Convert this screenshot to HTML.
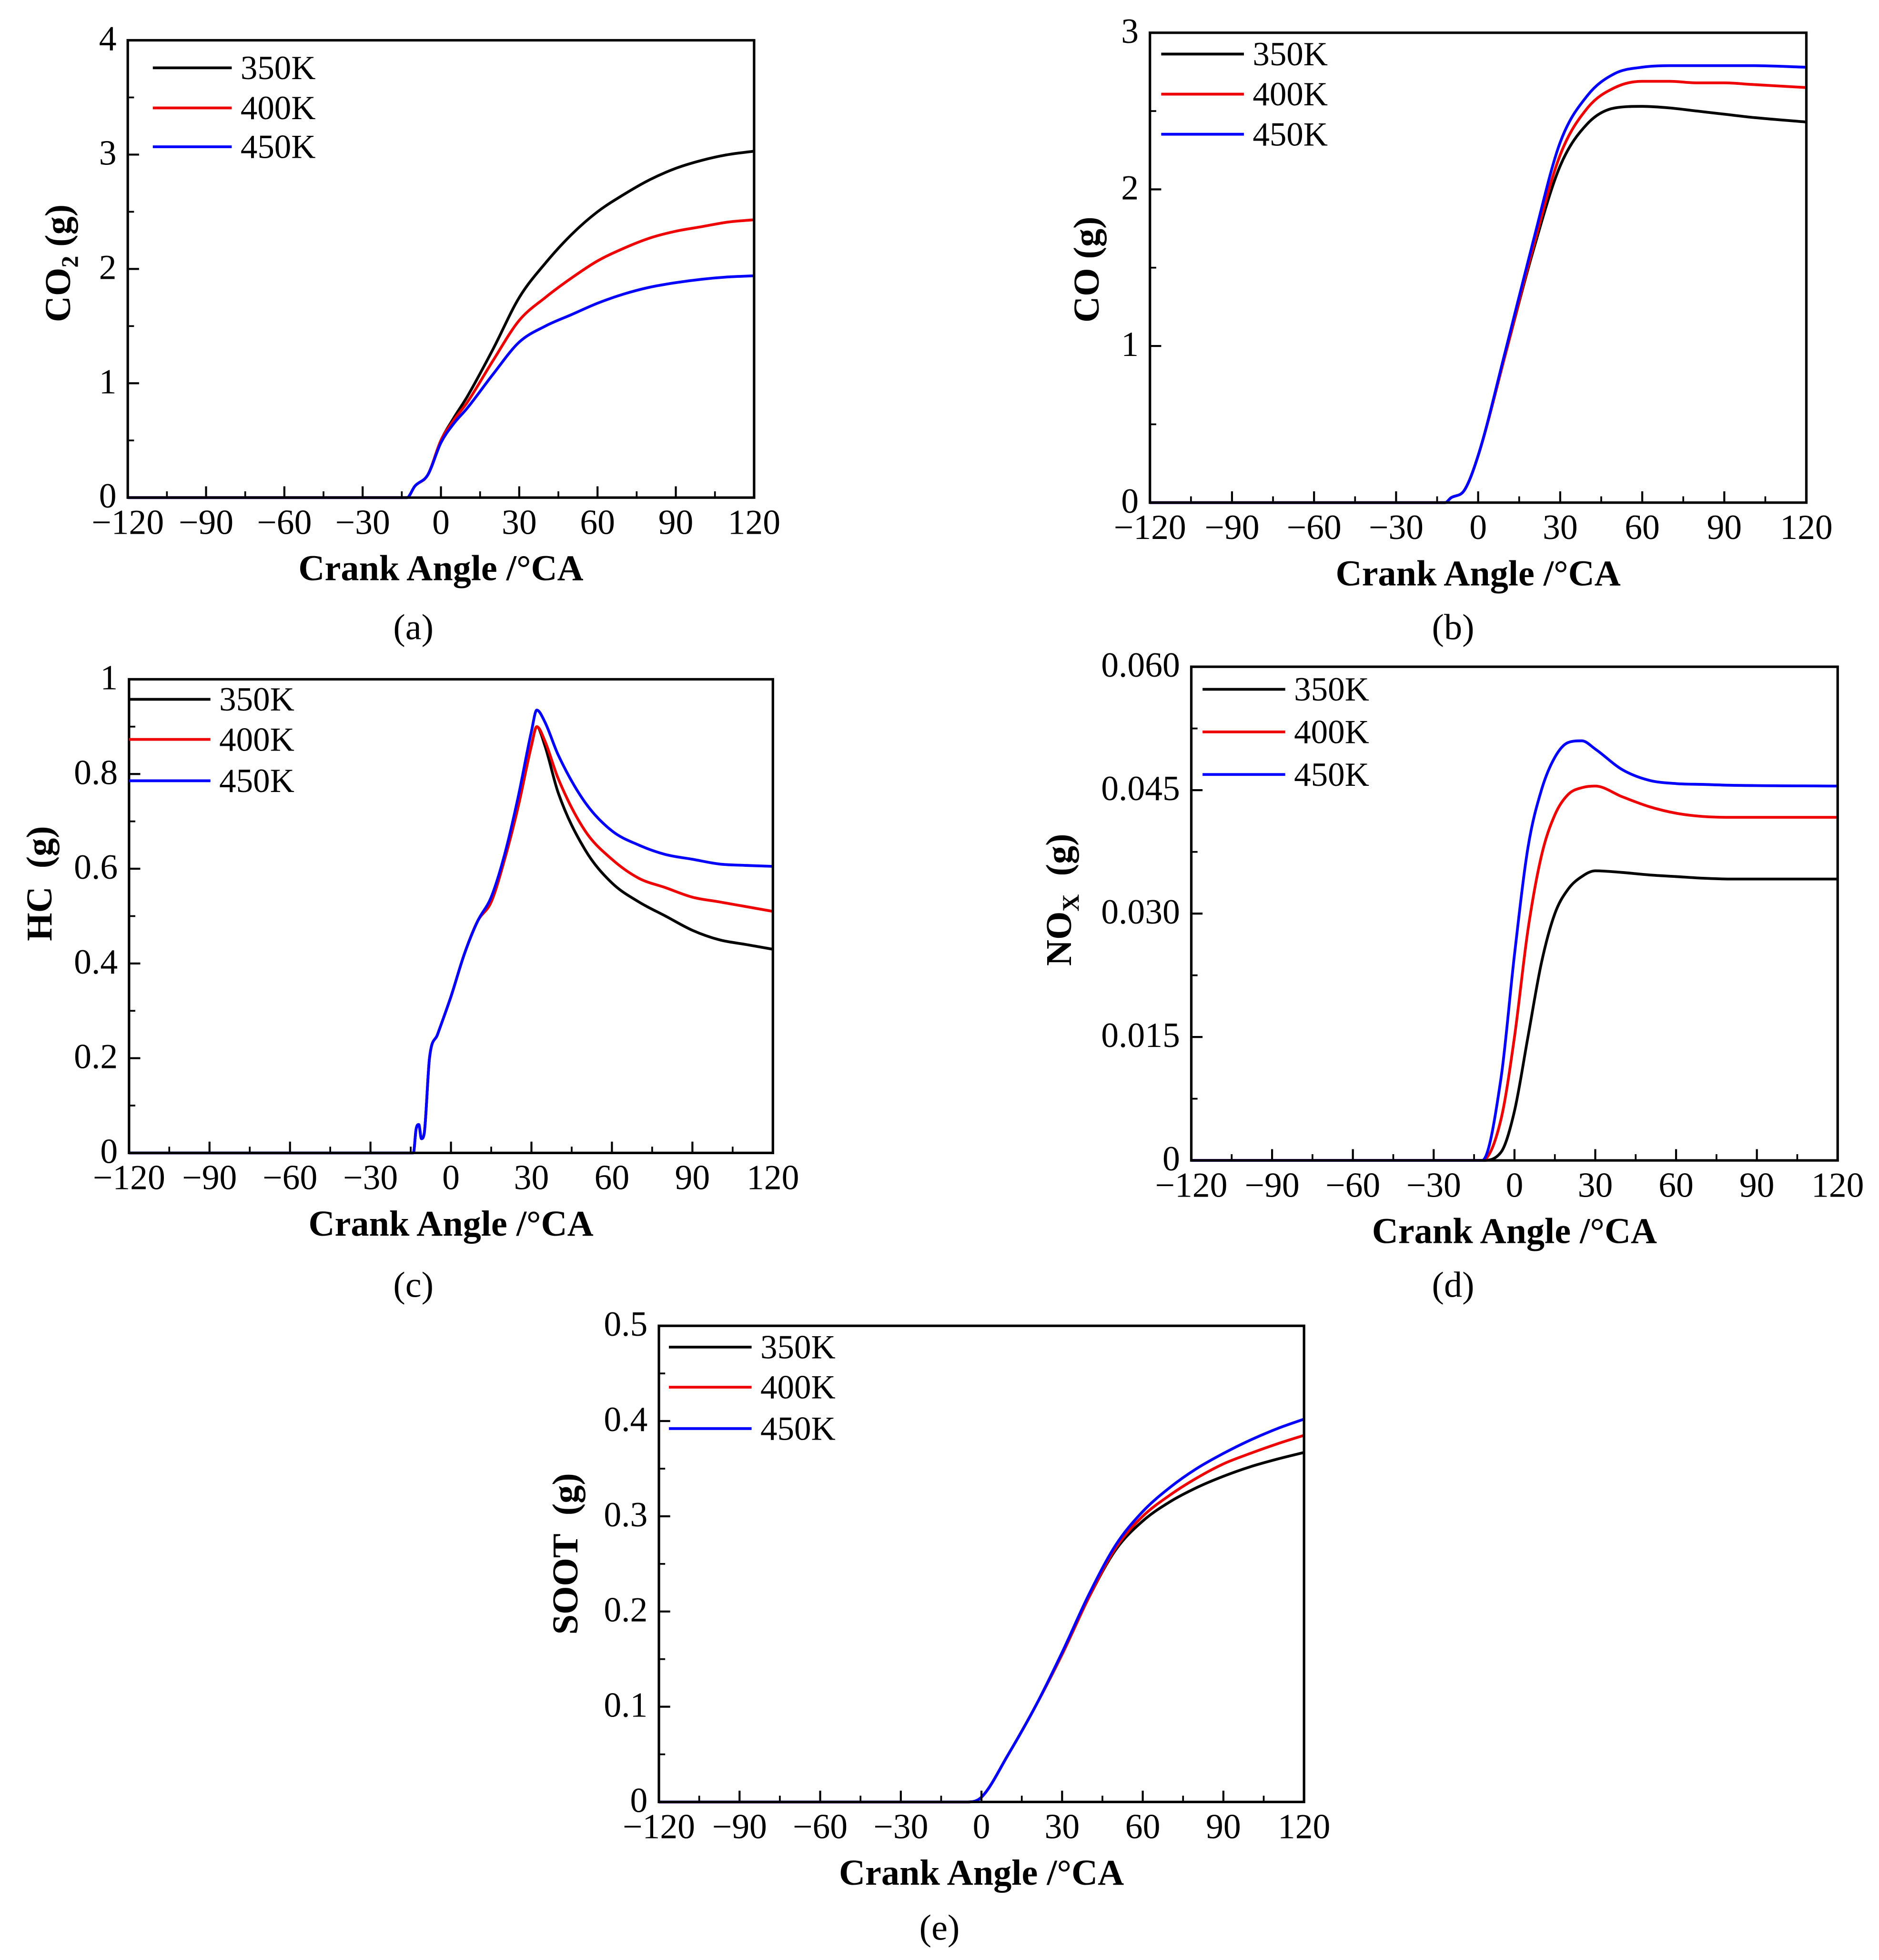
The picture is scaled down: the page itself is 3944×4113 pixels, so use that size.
<!DOCTYPE html>
<html><head><meta charset="utf-8"><style>
html,body{margin:0;padding:0;background:#fff}
svg{display:block}
text{font-family:"Liberation Serif",serif;fill:#000}
</style></head><body>
<svg id="fig" xmlns="http://www.w3.org/2000/svg" width="3944" height="4113" viewBox="0 0 1500 1564" font-family="Liberation Serif, serif"></svg>
<script>
const xTicks=[-120,-90,-60,-30,0,30,60,90,120];
const xTickLabels=["\u2212120","\u221290","\u221260","\u221230","0","30","60","90","120"];
const seriesNames=["350K","400K","450K"];
const colors=["#000","#e00","#00f"];

const co2X=[-120,-13,-10,-5,0,5,10,20,30,40,50,60,70,80,90,100,110,120];
const co2_350=[0,0,0.1,0.2,0.5,0.7,0.88,1.3,1.75,2.05,2.3,2.5,2.65,2.78,2.88,2.95,3.0,3.03];
const co2_400=[0,0,0.1,0.2,0.5,0.68,0.83,1.2,1.55,1.75,1.92,2.07,2.18,2.27,2.33,2.37,2.41,2.43];
const co2_450=[0,0,0.1,0.2,0.48,0.65,0.78,1.08,1.36,1.5,1.6,1.7,1.78,1.84,1.88,1.91,1.93,1.94];

const coX=[-120,-12,-10,-5,0,10,20,30,40,50,60,70,80,90,100,120];
const co_350=[0,0,0.03,0.08,0.3,0.95,1.6,2.15,2.42,2.52,2.53,2.52,2.5,2.48,2.46,2.43];
const co_400=[0,0,0.03,0.08,0.3,0.95,1.62,2.22,2.52,2.65,2.69,2.69,2.68,2.68,2.67,2.65];
const co_450=[0,0,0.03,0.08,0.3,0.97,1.66,2.3,2.6,2.74,2.78,2.79,2.79,2.79,2.79,2.78];

const hcX=[-120,-14,-13,-12,-11,-10,-8,-5,0,5,10,15,20,25,30,32,35,40,50,60,70,80,90,100,110,120];
const hc_350=[0,0,0.05,0.06,0.03,0.04,0.2,0.25,0.33,0.42,0.49,0.53,0.62,0.73,0.86,0.9,0.86,0.76,0.64,0.57,0.53,0.5,0.47,0.45,0.44,0.43];
const hc_400=[0,0,0.05,0.06,0.03,0.04,0.2,0.25,0.33,0.42,0.49,0.53,0.62,0.73,0.86,0.9,0.87,0.79,0.68,0.62,0.58,0.56,0.54,0.53,0.52,0.51];
const hc_450=[0,0,0.05,0.06,0.03,0.04,0.2,0.25,0.33,0.42,0.49,0.54,0.63,0.75,0.89,0.935,0.91,0.84,0.74,0.68,0.65,0.63,0.62,0.61,0.607,0.605];

const noxX=[-120,-12,-5,0,5,10,15,20,25,30,40,50,60,70,80,120];
const nox_350=[0,0,0.001,0.006,0.015,0.024,0.03,0.033,0.0345,0.0352,0.035,0.0347,0.0345,0.0343,0.0342,0.0342];
const nox_400=[0,0,0.005,0.015,0.028,0.037,0.042,0.0445,0.0453,0.0455,0.0442,0.043,0.0422,0.0418,0.0417,0.0417];
const nox_450=[0,0,0.01,0.025,0.038,0.045,0.049,0.0508,0.051,0.05,0.0475,0.0462,0.0458,0.0457,0.0456,0.0455];

const sootX=[-120,-5,0,10,20,30,40,50,60,70,80,90,100,110,120];
const soot_350=[0,0,0.005,0.05,0.1,0.155,0.215,0.265,0.295,0.315,0.33,0.342,0.352,0.36,0.367];
const soot_400=[0,0,0.005,0.05,0.1,0.155,0.215,0.267,0.3,0.322,0.34,0.355,0.366,0.376,0.385];
const soot_450=[0,0,0.005,0.05,0.1,0.157,0.218,0.27,0.305,0.33,0.35,0.366,0.38,0.392,0.402];

const NS="http://www.w3.org/2000/svg";
const svg=document.getElementById('fig');
function el(tag,attrs,parent){const e=document.createElementNS(NS,tag);for(const k in attrs)e.setAttribute(k,attrs[k]);(parent||svg).appendChild(e);return e;}
function txt(s,attrs,parent){const e=el('text',attrs,parent);e.textContent=s;return e;}

function monoPath(xs,ys,sx,sy){
  const n=xs.length,d=[],m=new Array(n).fill(0);
  for(let i=0;i<n-1;i++)d.push((ys[i+1]-ys[i])/(xs[i+1]-xs[i]));
  m[0]=d[0];m[n-1]=d[n-2];
  for(let i=1;i<n-1;i++){m[i]=(d[i-1]*d[i]<=0)?0:(d[i-1]+d[i])/2;}
  for(let i=0;i<n-1;i++){
    if(d[i]===0){m[i]=0;m[i+1]=0;continue;}
    const a=m[i]/d[i],b=m[i+1]/d[i],s=a*a+b*b;
    if(s>9){const t=3/Math.sqrt(s);m[i]=t*a*d[i];m[i+1]=t*b*d[i];}
  }
  let p='M'+sx(xs[0])+','+sy(ys[0]);
  for(let i=0;i<n-1;i++){
    const h=xs[i+1]-xs[i];
    p+=' C'+sx(xs[i]+h/3)+','+sy(ys[i]+m[i]*h/3)+' '+sx(xs[i+1]-h/3)+','+sy(ys[i+1]-m[i+1]*h/3)+' '+sx(xs[i+1])+','+sy(ys[i+1]);
  }
  return p;
}

function panel(cfg){
  const g=el('g',{});
  
  
  const {x0,x1,y0,y1,ymax}=cfg;
  const sx=v=>x0+(v+120)/240*(x1-x0);
  const sy=v=>y1-v/ymax*(y1-y0);
  cfg.series.forEach((ys,i)=>{
    const p=el('path',{d:monoPath(cfg.xs,ys,sx,sy),fill:'none',stroke:colors[i],'stroke-width':2.2,'stroke-linejoin':'round'},g);
    
    
  });
  const f=el('rect',{x:x0,y:y0,width:x1-x0,height:y1-y0,fill:'none',stroke:'#000','stroke-width':2},g);
  
  
  xTicks.forEach((t,i)=>{
    el('line',{x1:sx(t),x2:sx(t),y1:y1,y2:y1-9,stroke:'#000','stroke-width':1.6},g);
    if(i<xTicks.length-1) el('line',{x1:sx(t+15),x2:sx(t+15),y1:y1,y2:y1-5,stroke:'#000','stroke-width':1.4},g);
    const l=txt(xTickLabels[i],{x:sx(t),y:y1+29,'font-size':28,'text-anchor':'middle'},g);
    
    
  });
  cfg.yTicks.forEach((t,i)=>{
    el('line',{x1:x0,x2:x0+9,y1:sy(t),y2:sy(t),stroke:'#000','stroke-width':1.6},g);
    if(i<cfg.yTicks.length-1){const m=(t+cfg.yTicks[i+1])/2;el('line',{x1:x0,x2:x0+5,y1:sy(m),y2:sy(m),stroke:'#000','stroke-width':1.4},g);}
    const l=txt(cfg.yLabels[i],{x:x0-9,y:sy(t)+8,'font-size':28,'text-anchor':'end'},g);
    
    
  });
  cfg.leg.ys.forEach((ly,i)=>{
    el('line',{x1:cfg.leg.x1,x2:cfg.leg.x2,y1:ly,y2:ly,stroke:colors[i],'stroke-width':2.2},g);
    const l=txt(seriesNames[i],{x:cfg.leg.x2+7,y:ly+9,'font-size':27},g);
    
    
  });
  const xt=txt('Crank Angle /°CA',{x:(x0+x1)/2,y:y1+66,'font-size':29,'font-weight':'bold','text-anchor':'middle'},g);
  
  
  const yt=el('text',{x:0,y:0,'font-size':29,'font-weight':'bold','text-anchor':'middle',transform:`translate(${cfg.yt[0]},${cfg.yt[1]}) rotate(-90)`},g);
  yt.innerHTML=cfg.ytitle;
  
  
  const c=txt(cfg.cap[2],{x:cfg.cap[0],y:cfg.cap[1],'font-size':29,'text-anchor':'middle'},g);
  
  
}

panel({name:'panel-a-co2',x0:102,x1:602,y0:32,y1:397,ymax:4,xs:co2X,series:[co2_350,co2_400,co2_450],
  yTicks:[0,1,2,3,4],yLabels:['0','1','2','3','4'],leg:{x1:122,x2:185,ys:[54,86,117]},
  ytitle:'CO<tspan font-size="19" dy="6">2</tspan><tspan dy="-6"> (g)</tspan>',yt:[56,210],cap:[330,510,'(a)']});
panel({name:'panel-b-co',x0:918,x1:1442,y0:26,y1:401,ymax:3,xs:coX,series:[co_350,co_400,co_450],
  yTicks:[0,1,2,3],yLabels:['0','1','2','3'],leg:{x1:927,x2:993,ys:[43,75,107]},
  ytitle:'CO (g)',yt:[877,215],cap:[1160,510,'(b)']});
panel({name:'panel-c-hc',x0:103,x1:617,y0:542,y1:920,ymax:1,xs:hcX,series:[hc_350,hc_400,hc_450],
  yTicks:[0,0.2,0.4,0.6,0.8,1],yLabels:['0','0.2','0.4','0.6','0.8','1'],leg:{x1:103,x2:168,ys:[558,590,623]},
  ytitle:'HC&#160;&#160;(g)',yt:[41,705],cap:[330,1035,'(c)']});
panel({name:'panel-d-nox',x0:951,x1:1467,y0:532,y1:926,ymax:0.06,xs:noxX,series:[nox_350,nox_400,nox_450],
  yTicks:[0,0.015,0.03,0.045,0.06],yLabels:['0','0.015','0.030','0.045','0.060'],leg:{x1:960,x2:1026,ys:[550,584,618]},
  ytitle:'NO<tspan font-size="19" dy="6">X</tspan><tspan dy="-6">&#160;&#160;(g)</tspan>',yt:[855,718],cap:[1160,1035,'(d)']});
panel({name:'panel-e-soot',x0:526,x1:1041,y0:1058,y1:1438,ymax:0.5,xs:sootX,series:[soot_350,soot_400,soot_450],
  yTicks:[0,0.1,0.2,0.3,0.4,0.5],yLabels:['0','0.1','0.2','0.3','0.4','0.5'],leg:{x1:534,x2:600,ys:[1075,1107,1140]},
  ytitle:'SOOT&#160;&#160;(g)',yt:[461,1240],cap:[750,1548,'(e)']});
</script>
</body></html>
